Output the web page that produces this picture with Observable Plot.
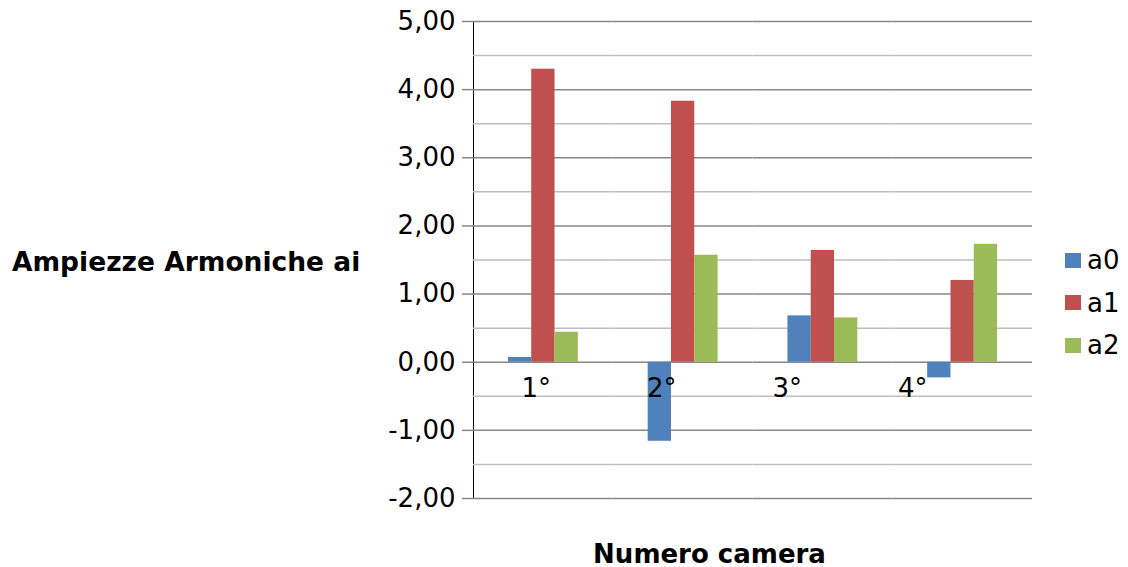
<!DOCTYPE html>
<html>
<head>
<meta charset="utf-8">
<script src="https://cdn.jsdelivr.net/npm/d3@7"></script>
<script src="https://cdn.jsdelivr.net/npm/@observablehq/plot@0.6"></script>
<style>
  body { margin: 0; background: #fff; }
  #wrap { position: relative; width: 1128px; height: 567px; font-family: "DejaVu Sans", sans-serif; color: #000; overflow: hidden; }
  #wrap svg [aria-label^="y-axis"] line,
  #wrap svg [aria-label^="y-axis"] path { stroke: #888; stroke-width: 1.5; stroke-opacity: 1; }
  .title { position: absolute; font-weight: bold; line-height: 0.8; white-space: nowrap; }
  .legend-row { position: absolute; left: 1065px; font-size: 26px; line-height: 1; white-space: nowrap; }
  .swatch { display: inline-block; width: 16px; height: 15px; margin-right: 6px; vertical-align: 1.5px; }
</style>
</head>
<body>
<div id="wrap"></div>
<script>
// Harmonic amplitudes (a0, a1, a2) for each chamber
const categories = ["1°", "2°", "3°", "4°"];
const series = ["a0", "a1", "a2"];
const a0 = [0.07, -1.16, 0.68, -0.23];
const a1 = [4.30, 3.83, 1.64, 1.20];
const a2 = [0.44, 1.57, 0.65, 1.73];
const colors = ["#4f81bd", "#c0504d", "#9bbb59"];
const yTicks = [-2, -1, 0, 1, 2, 3, 4, 5];
const yMinor = [-1.5, -0.5, 0.5, 1.5, 2.5, 3.5, 4.5];
const yTitle = "Ampiezze Armoniche ai";
const xTitle = "Numero camera";

const values = [a0, a1, a2];
const rows = categories.flatMap((c, i) =>
  series.map((s, k) => ({camera: c, serie: s, value: values[k][i]}))
);

// Italian decimal comma
const fmt = d => d.toFixed(2).replace(".", ",");

// category labels run on a slightly tighter spacing than the bar groups
const labelShift = i => -7.1 - 14.25 * i;

const chart = Plot.plot({
  width: 1128,
  height: 567,
  marginLeft: 473,
  marginRight: 96,
  marginTop: 21,
  marginBottom: 69,
  style: {fontFamily: '"DejaVu Sans", sans-serif', fontSize: "26px", color: "#000", background: "#fff"},
  fx: {domain: categories, padding: 0, round: false, axis: null},
  x: {domain: series, paddingInner: 0, paddingOuter: 1.5, round: false, axis: null},
  y: {domain: [-2, 5], ticks: yTicks, tickFormat: fmt, tickSize: 11, tickPadding: 7, line: true, label: null},
  color: {domain: series, range: colors},
  marks: [
    Plot.ruleY(yMinor, {stroke: "#bfbfbf", strokeWidth: 1.5}),
    Plot.ruleY(yTicks, {stroke: "#888", strokeWidth: 1.5}),
    Plot.barY(rows, {fx: "camera", x: "serie", y: "value", fill: "serie"}),
    ...categories.map((c, i) =>
      Plot.text([c], {fx: d => d, y: 0, text: d => d, dy: 26, dx: labelShift(i), fill: "#000", fontSize: 26})
    )
  ]
});

const wrap = document.getElementById("wrap");
wrap.appendChild(chart);

// axis titles
const yt = document.createElement("div");
yt.className = "title";
yt.style.fontSize = "26.5px";
yt.style.left = "12px";
yt.style.top = "251px";
yt.textContent = yTitle;
wrap.appendChild(yt);

const xt = document.createElement("div");
xt.className = "title";
xt.style.fontSize = "26px";
xt.style.left = "709.5px";
xt.style.top = "543.5px";
xt.style.transform = "translateX(-50%)";
xt.textContent = xTitle;
wrap.appendChild(xt);

// legend
series.forEach((s, k) => {
  const row = document.createElement("div");
  row.className = "legend-row";
  row.style.top = (247 + 42.5 * k) + "px";
  const sw = document.createElement("span");
  sw.className = "swatch";
  sw.style.background = colors[k];
  row.appendChild(sw);
  row.appendChild(document.createTextNode(s));
  wrap.appendChild(row);
});
</script>
</body>
</html>
